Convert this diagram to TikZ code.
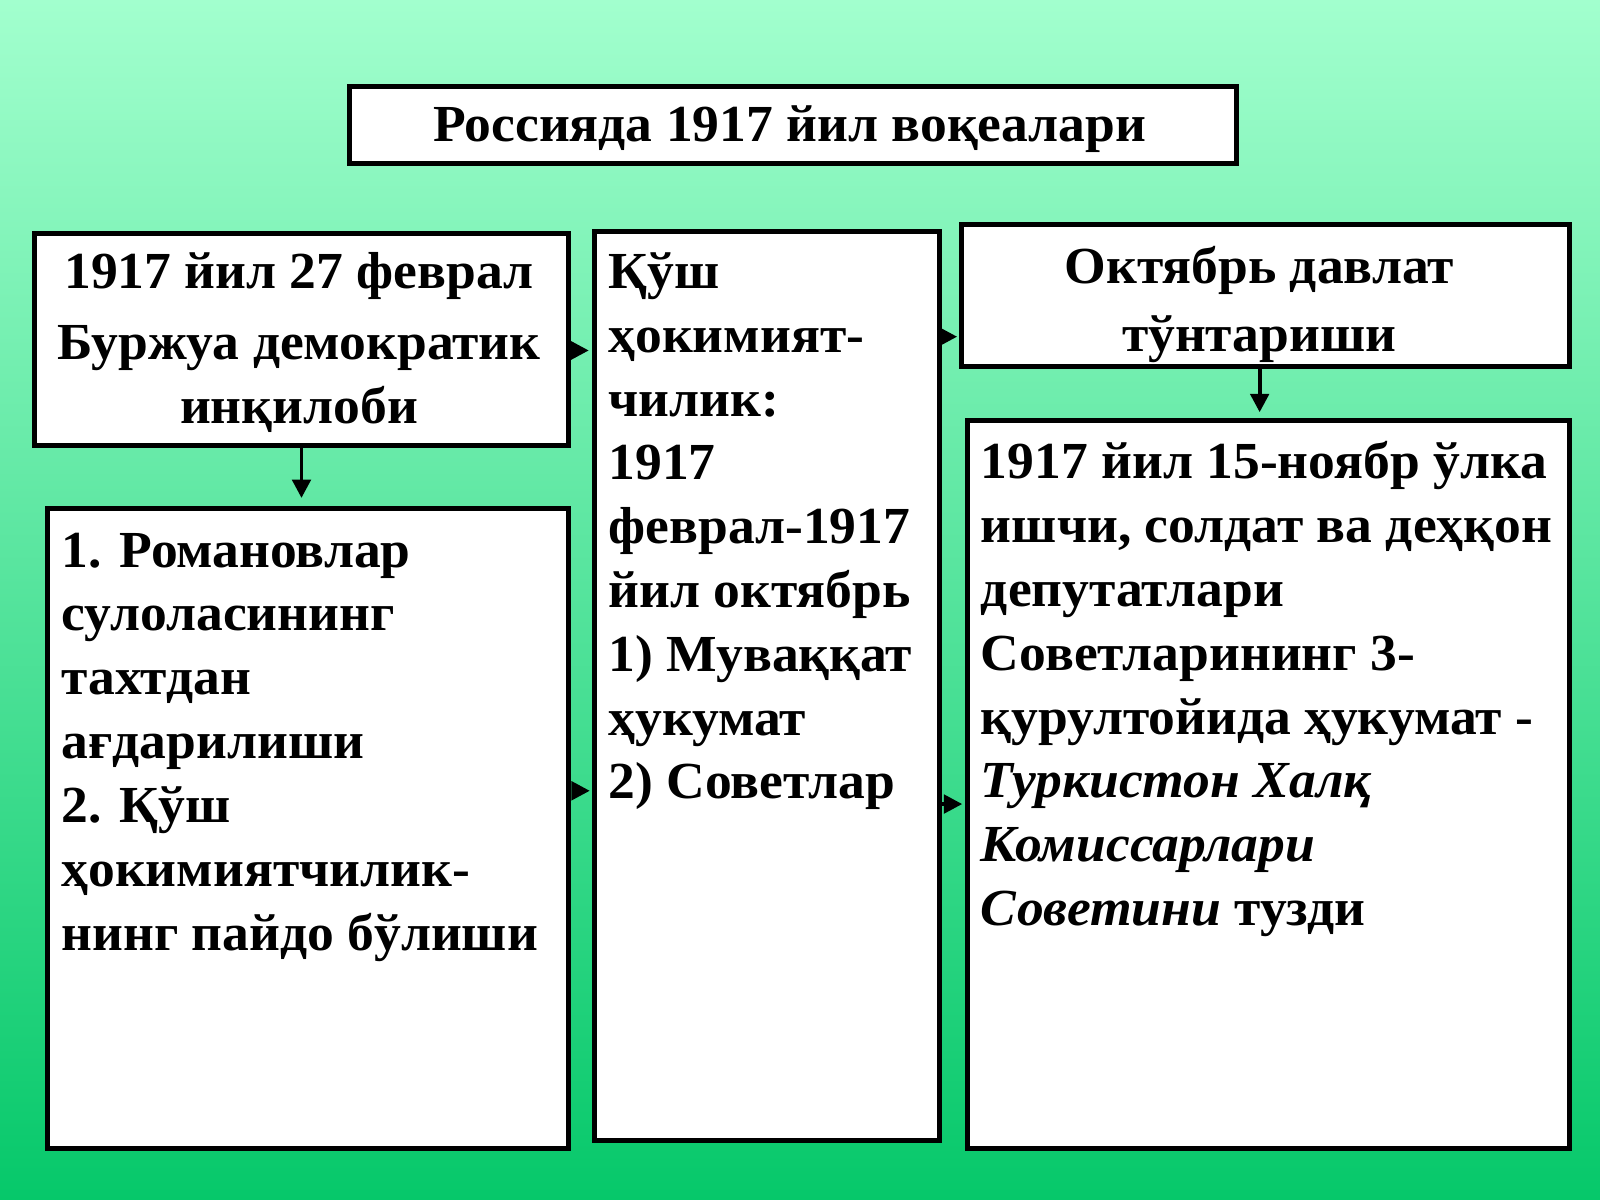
\documentclass[tikz,border=0pt]{standalone}
\usepackage{fontspec}
\setmainfont{Liberation Serif}[FakeStretch=1.03]
\usetikzlibrary{arrows.meta, calc}
\definecolor{bgtop}{RGB}{162,255,206}
\definecolor{bgbot}{RGB}{6,200,106}
\tikzset{
box/.style={draw, line width=2.8pt, fill=white, anchor=north west, inner sep=0pt}, % white framed boxes
boxsize/.style 2 args={minimum width=#1*0.02cm, minimum height=#2*0.02cm}, % size in slide pixels
txt/.style={inner sep=0pt, font=\fontsize{29}{35.6}\selectfont\bfseries}, % text of the slide
link/.style={line width=2.2pt, -{Triangle[length=0.36cm, width=0.36cm]}}, % the black arrows
}

\begin{document}
\begin{tikzpicture}[x=0.02cm, y=-0.02cm]
    \shade[top color=bgtop, bottom color=bgbot] (0,0) rectangle (1568,1176);
    \useasboundingbox (0,0) rectangle (1568,1176);

    \node[box, boxsize={869}{76}] (title) at (340,82) {};
    \node[box, boxsize={524}{208}] (feb) at (31,226) {};
    \node[box, boxsize={511}{627}] (romanov) at (44,496) {};
    \node[box, boxsize={338}{891}] (dual) at (580,224) {};
    \node[box, boxsize={596}{139}] (oct) at (940,218) {};
    \node[box, boxsize={590}{713}] (nov) at (946,410) {};

    % text nodes sit on the baseline of their last line
    \node[txt, anchor=base] (title-t) at (774,139) {Россияда 1917 йил воқеалари};
    \node[txt, anchor=base, align=center] (feb-t) at (293,415)
        {1917 йил 27 феврал\\[0.14cm] Буржуа демократик\\ инқилоби};
    \node[txt, anchor=base west, align=left] (romanov-t) at (60,931)
        {1. Романовлар\\ сулоласининг\\ тахтдан\\ ағдарилиши\\ 2. Қўш\\ ҳокимиятчилик-\\ нинг пайдо бўлиши};
    \node[txt, anchor=base west, align=left] (dual-t) at (596,783)
        {Қўш\\ ҳокимият-\\ чилик:\\ 1917\\ феврал-1917\\ йил октябрь\\ 1) Муваққат\\ ҳукумат\\ 2) Советлар};
    \node[txt, anchor=base, align=center] (oct-t) at (1234,344)
        {Октябрь давлат\\[0.08cm] тўнтариши};
    \node[txt, anchor=base west, align=left] (nov-t) at (961,907)
        {1917 йил 15-ноябр ўлка\\ ишчи, солдат ва деҳқон\\ депутатлари\\ Советларининг 3-\\ қурултойида ҳукумат -\\
         \textit{Туркистон Халқ}\\ \textit{Комиссарлари}\\ \textit{Советини} тузди};

    \draw[link]
    (feb.south) -- ($(feb.south |- romanov.north)+(0,-8)$);

    \draw[link]
    ($(oct.south)+(-6,0)$) -- ($(oct.south |- nov.north)+(-6,-6)$);

    \draw[link]
    ($(feb.east)+(-4,11)$) -- ($(feb.east -| dual.west)+(-3,11)$);

    \draw[link]
    ($(romanov.east)+(3,-37)$) -- ($(romanov.east -| dual.west)+(-2,-37)$);

    \draw[link]
    ($(oct.west -| dual.east)+(0,40)$) -- ($(oct.west)+(-2,40)$);

    \draw[link]
    ($(nov.west -| dual.east)+(0,19)$) -- ($(nov.west)+(-3,19)$);

\end{tikzpicture}
\end{document}
